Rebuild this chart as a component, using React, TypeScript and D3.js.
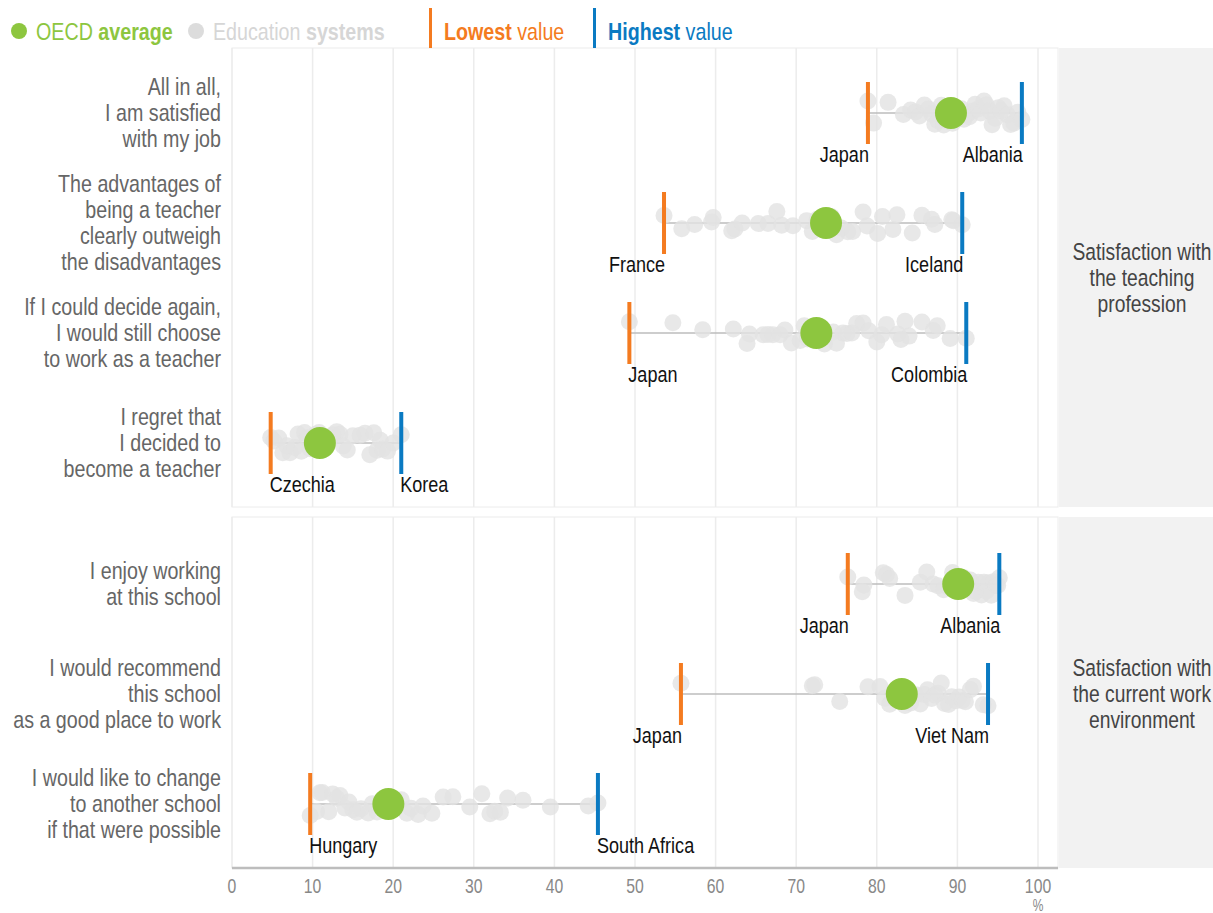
import React from "react";
import * as d3 from "d3";

const topItems = [
  "All in all,|I am satisfied|with my job",
  "The advantages of|being a teacher|clearly outweigh|the disadvantages",
  "If I could decide again,|I would still choose|to work as a teacher",
  "I regret that|I decided to|become a teacher",
];
const bottomItems = [
  "I enjoy working|at this school",
  "I would recommend|this school|as a good place to work",
  "I would like to change|to another school|if that were possible",
];
const groupLabels = [
  "Satisfaction with|the teaching|profession",
  "Satisfaction with|the current work|environment",
];

const oecdAverage = [89.2, 73.7, 72.5, 10.9, 90.1, 83.1, 19.4];
const lowestName = ["Japan", "France", "Japan", "Czechia", "Japan", "Japan", "Hungary"];
const lowestValue = [78.9, 53.6, 49.3, 4.8, 76.4, 55.7, 9.7];
const highestName = ["Albania", "Iceland", "Colombia", "Korea", "Albania", "Viet Nam", "South Africa"];
const highestValue = [98.0, 90.6, 91.1, 21.0, 95.2, 93.8, 45.4];

const systems1 = [78.9, 79.6, 81.4, 83.3, 84.2, 84.8, 85.3, 85.9, 86.4, 86.8, 87.2, 87.6, 88.0, 88.3, 88.7, 89.0, 89.4, 89.8, 90.1, 90.5, 90.8, 91.2, 91.5, 91.9, 92.2, 92.6, 92.9, 93.3, 93.6, 94.0, 94.3, 94.7, 95.1, 95.4, 95.8, 96.2, 96.6, 97.0, 97.5, 98.0];
const systems2 = [53.6, 55.8, 57.4, 59.5, 59.7, 62.0, 62.4, 63.3, 65.3, 66.5, 67.6, 68.2, 69.6, 71.3, 72.0, 72.6, 73.2, 74.4, 75.0, 75.6, 76.4, 77.0, 78.3, 78.8, 80.1, 80.7, 82.0, 82.5, 84.4, 85.6, 86.8, 87.2, 89.3, 89.5, 90.6];
const systems3 = [49.3, 54.7, 58.4, 62.2, 63.9, 64.2, 65.9, 66.5, 67.1, 68.0, 68.6, 69.4, 70.5, 71.0, 71.4, 72.0, 73.5, 74.6, 75.0, 75.8, 76.3, 76.9, 77.5, 78.3, 79.0, 80.0, 80.6, 81.2, 82.6, 83.0, 83.5, 84.0, 85.6, 87.0, 87.5, 89.1, 91.1];
const systems4 = [4.8, 5.2, 5.8, 6.3, 6.8, 7.2, 7.8, 8.2, 8.6, 9.0, 9.3, 9.7, 10.0, 10.4, 10.8, 11.2, 11.6, 12.0, 12.5, 13.0, 13.4, 13.8, 14.3, 15.0, 15.9, 16.5, 17.1, 17.6, 18.0, 18.4, 18.7, 19.3, 20.0, 21.0];
const systems5 = [76.4, 78.2, 78.4, 80.8, 81.2, 81.6, 83.5, 85.4, 86.2, 87.0, 87.6, 88.3, 88.9, 89.4, 90.0, 90.4, 90.8, 91.2, 91.6, 92.0, 92.3, 92.6, 93.0, 93.3, 93.6, 93.9, 94.2, 94.5, 94.8, 95.0, 95.2];
const systems6 = [55.7, 72.0, 72.3, 75.4, 78.9, 80.4, 81.0, 81.6, 82.3, 83.5, 84.2, 84.8, 85.4, 85.9, 86.3, 86.8, 87.2, 87.6, 88.0, 88.4, 88.9, 89.3, 89.8, 90.2, 90.6, 91.0, 91.6, 92.0, 93.2, 93.8];
const systems7 = [9.7, 10.5, 10.9, 11.2, 12.0, 12.5, 13.0, 13.4, 14.0, 14.5, 15.0, 15.5, 16.0, 16.9, 17.4, 18.0, 21.0, 21.7, 22.2, 23.1, 23.7, 24.8, 26.2, 27.4, 29.5, 31.0, 32.0, 32.6, 33.3, 34.2, 36.1, 39.5, 44.2, 45.4];
const systemsAll = [systems1, systems2, systems3, systems4, systems5, systems6, systems7];

const xTicks = [0, 10, 20, 30, 40, 50, 60, 70, 80, 90, 100];

const FONT = "'Liberation Sans', Arial, sans-serif";
const GREEN = "#8dc63f";
const ORANGE = "#f47b20";
const BLUE = "#0a7ac2";
const GREYDOT = "#e2e2e2";

function jitter(i: number, r: number) {
  const s = Math.sin(i * 12.9898 + r * 78.233) * 43758.5453;
  return (s - Math.floor(s) - 0.5) * 24;
}

// condensed text (horizontal scale) to mimic a narrow font
function NText(props: { x: number; y: number; sx?: number; anchor?: string; size: number; fill: string; children: any }) {
  const sx = props.sx ?? 0.82;
  return (
    <g transform={`translate(${props.x},${props.y}) scale(${sx},1)`}>
      <text x={0} y={0} textAnchor={props.anchor ?? "start"} fontSize={props.size} fill={props.fill}>
        {props.children}
      </text>
    </g>
  );
}

export default function App() {
  const W = 1213, H = 913;
  const x = d3.scaleLinear().domain([0, 100]).range([232, 1038]);
  const plotRight = 1058;
  const topPanel = { y0: 48, y1: 507 };
  const botPanel = { y0: 517, y1: 868 };
  const yTop = d3.scaleBand<string>().domain(topItems).range([58, 498]);
  const yBot = d3.scaleBand<string>().domain(bottomItems).range([529, 859]);

  const rows = [
    ...topItems.map((t) => ({ label: t, cy: (yTop(t) as number) + yTop.bandwidth() / 2 })),
    ...bottomItems.map((t) => ({ label: t, cy: (yBot(t) as number) + yBot.bandwidth() / 2 })),
  ];

  const panels = [topPanel, botPanel];
  const groupCenters = [278, 694];

  return (
    <svg width={W} height={H} style={{ position: "absolute", left: 0, top: 0 }} fontFamily={FONT}>
      <rect x={0} y={0} width={W} height={H} fill="#fff" />
      {panels.map((p, pi) => (
        <g key={"p" + pi}>
          <rect x={232} y={p.y0} width={plotRight - 232} height={p.y1 - p.y0} fill="#fff" stroke="#ececec" strokeWidth={1} />
          {xTicks.map((t) => (
            <line key={t} x1={x(t)} x2={x(t)} y1={p.y0} y2={p.y1} stroke="#ececec" strokeWidth={1.5} />
          ))}
          <rect x={plotRight + 1} y={p.y0} width={W - plotRight - 1} height={p.y1 - p.y0} fill="#f2f2f2" />
          {groupLabels[pi].split("|").map((l, li, arr) => (
            <NText key={li} x={1142} y={groupCenters[pi] + (li - (arr.length - 1) / 2) * 26 + 8} anchor="middle" size={23.5} fill="#444">
              {l}
            </NText>
          ))}
        </g>
      ))}

      {rows.map((r, ri) => {
        const lines = r.label.split("|");
        const lowEnd = lowestValue[ri] > 50;
        const highEnd = highestValue[ri] > 50;
        return (
          <g key={"r" + ri}>
            {lines.map((l, li) => (
              <NText key={li} x={221} y={r.cy + (li - (lines.length - 1) / 2) * 25.7 + 8} anchor="end" size={24} fill="#666">
                {l}
              </NText>
            ))}
            <line x1={x(lowestValue[ri])} x2={x(highestValue[ri])} y1={r.cy} y2={r.cy} stroke="#bdbdbd" strokeWidth={1.5} />
            {systemsAll[ri].map((v, i) => (
              <circle key={i} cx={x(v)} cy={r.cy + jitter(i, ri)} r={8.5} fill={GREYDOT} fillOpacity={0.8} />
            ))}
            <circle cx={x(oecdAverage[ri])} cy={r.cy} r={16} fill={GREEN} />
            <rect x={x(lowestValue[ri]) - 2} y={r.cy - 31} width={4} height={62} fill={ORANGE} />
            <rect x={x(highestValue[ri]) - 2} y={r.cy - 31} width={4} height={62} fill={BLUE} />
            <NText x={x(lowestValue[ri]) + (lowEnd ? 1 : -1)} y={r.cy + 49} anchor={lowEnd ? "end" : "start"} size={22} fill="#111">
              {lowestName[ri]}
            </NText>
            <NText x={x(highestValue[ri]) + (highEnd ? 1 : -1)} y={r.cy + 49} anchor={highEnd ? "end" : "start"} size={22} fill="#111">
              {highestName[ri]}
            </NText>
          </g>
        );
      })}

      <line x1={232} x2={plotRight} y1={868} y2={868} stroke="#bdbdbd" strokeWidth={2.5} />
      {xTicks.map((t) => (
        <NText key={"t" + t} x={x(t)} y={893} anchor="middle" size={21} sx={0.75} fill="#888">
          {t}
        </NText>
      ))}
      <NText x={x(100)} y={911} anchor="middle" size={16} sx={0.75} fill="#888">%</NText>

      {/* Legend */}
      <circle cx={19} cy={31} r={8} fill={GREEN} />
      <NText x={36} y={40} size={24} fill={GREEN}>
        OECD <tspan fontWeight="bold">average</tspan>
      </NText>
      <circle cx={196} cy={31} r={8} fill="#dcdcdc" />
      <NText x={213} y={40} size={24} fill="#d6d6d6">
        Education <tspan fontWeight="bold">systems</tspan>
      </NText>
      <rect x={429} y={8} width={3} height={40} fill={ORANGE} />
      <NText x={444} y={40} size={24} fill={ORANGE}>
        <tspan fontWeight="bold">Lowest</tspan> value
      </NText>
      <rect x={593} y={8} width={3} height={40} fill={BLUE} />
      <NText x={608} y={40} size={24} fill={BLUE}>
        <tspan fontWeight="bold">Highest</tspan> value
      </NText>
    </svg>
  );
}
